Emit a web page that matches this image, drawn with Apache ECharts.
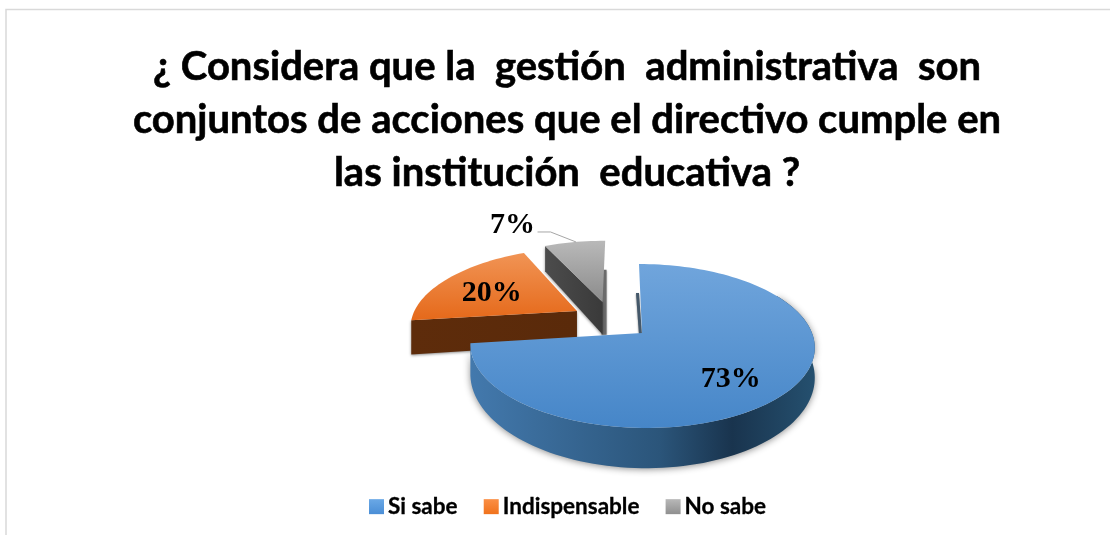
<!DOCTYPE html>
<html><head><meta charset="utf-8">
<style>html,body{margin:0;padding:0;background:#fff}#c{width:1110px;height:535px}</style>
<script src="https://cdn.jsdelivr.net/npm/echarts@6/dist/echarts.min.js"></script>
</head><body><div id="c"></div>
<script>
const titleLines = ['¿ Considera que la  gestión  administrativa  son','conjuntos de acciones que el directivo cumple en','las institución  educativa ?'];
const categories = ['Si sabe','Indispensable','No sabe'];
const values = [73,20,7];
const labels = ['73%','20%','7%'];

// projection of the tilted disk
const apexX=642, apexY=333, horiz=170, vert=79.9, persp=0.1585;
const explodeU=[0,-0.4,-0.24], explodeV=[0,0.2875,0.413];
const skew=[3.5,0,3];
const labelR=[0.70,0.63,1.52], labelT=[137.3,295.4,330.9];
const depthK=[28.5,36,37];
const topFill=[['#70a5dc','#4686c8'],['#f19455','#e5691a'],['#b9b9b9','#8b8b8b']];
const legendFill=[['#6aa8e6','#4a8ed6'],['#fb8f45','#f0721c'],['#b8b8b8','#8f8f8f']];
const wallFill=[
 [[0,'#4379ad'],[0.55,'#2b557a'],[0.76,'#19344e'],[1,'#25506f']],
 [[0,'#5e2c0b'],[1,'#5a2a0a']],
 [[0,'#4c4c4c'],[1,'#3a3a3a']]
];
const lg=(stops,hor)=>({type:'linear',x:0,y:0,x2:hor?1:0,y2:hor?0:1,colorStops:stops.map(s=>({offset:s[0],color:s[1]}))});
const vg=c=>lg([[0,c[0]],[1,c[1]]],false);

const total=values.reduce((a,b)=>a+b,0);
const starts=values.map((v,i)=>values.slice(0,i).reduce((a,b)=>a+b,0)/total*360);

function proj(u,v,k){const s=1/(1+persp*v);return {x:apexX+(u*horiz-v*(k||0))*s,y:apexY-v*vert*s,s};}
const rad=d=>d*Math.PI/180;
function polar(i,r,t){return proj(explodeU[i]+r*Math.sin(rad(t)),explodeV[i]+r*Math.cos(rad(t)),skew[i]);}
const down=(p,i)=>[p.x,p.y+depthK[i]*p.s*p.s];

function makeRender(i){
 return function(params,api){
  const sweep=api.value(0)/total*360, a0=starts[i], a1=a0+sweep, kids=[];
  const arc=(f,t)=>{const o=[],n=Math.max(4,Math.ceil(Math.abs(t-f)/2));for(let k=0;k<=n;k++)o.push(polar(i,1,f+(t-f)*k/n));return o;};
  const apex=polar(i,0,0), rim=arc(a0,a1);
  const wall=(pts,fill,shadow)=>kids.push({type:'polygon',shape:{points:pts},
    style:Object.assign({fill:fill},shadow?{shadowBlur:shadow,shadowColor:'rgba(0,0,0,0.45)',shadowOffsetY:1}:{})});
  if(i===0){
    // thin start edge, then the front rim
    const r0=rim[0];
    wall([[r0.x-3,r0.y+29],[r0.x,r0.y+29],[apex.x,apex.y+2],[apex.x-3,apex.y+2]],'#44586a',2);
    const f=arc(60,a1);
    const top=f.map(p=>[p.x,p.y]), bot=f.map(p=>down(p,i)).reverse();
    wall(top.concat(bot),lg(wallFill[i],true),7);
  } else {
    const edge=rim[0];
    if(i===2){
      const e=rim[rim.length-1], d=down(apex,i);
      wall([[apex.x-1,e.y+29],[apex.x+4,e.y+29],[apex.x+4,d[1]],[apex.x-1,d[1]]],'#6b6b6b',2);
    }
    wall([[edge.x,edge.y],[apex.x,apex.y],down(apex,i),down(edge,i)],lg(wallFill[i],true),3);
  }
  kids.push({type:'polygon',shape:{points:[[apex.x,apex.y]].concat(rim.map(p=>[p.x,p.y]))},style:{fill:vg(topFill[i])}});
  const lp=proj(explodeU[i]+labelR[i]*Math.sin(rad(labelT[i])),explodeV[i]+labelR[i]*Math.cos(rad(labelT[i])));
  if(i===2){
    const m=polar(i,1,(a0+a1)/2+0.5);
    kids.push({type:'polyline',shape:{points:[[lp.x+26,lp.y+8],[lp.x+39,lp.y+8],[m.x,m.y]]},style:{stroke:'#a6a6a6',lineWidth:1,fill:null}});
  }
  kids.push({type:'text',style:{text:labels[i],x:lp.x+1,y:lp.y+1.5,align:'center',verticalAlign:'middle',
    fontFamily:'Liberation Serif',fontWeight:'bold',fontSize:30,fill:'#000'}});
  return {type:'group',children:kids};
 };
}

const chart=echarts.init(document.getElementById('c'),null,{renderer:'canvas'});
chart.setOption({
 animation:false,
 backgroundColor:'#fff',
 title:{text:titleLines.join('\n'),left:562,top:36,textAlign:'center',
  textStyle:{fontFamily:'Lato',fontWeight:'bold',fontSize:40,lineHeight:53,color:'#000',textBorderColor:'#000',textBorderWidth:0.6}},
 legend:{data:categories,left:369,top:495,padding:0,itemWidth:15,itemHeight:15,itemGap:26,icon:'rect',
  textStyle:{fontFamily:'Lato',fontWeight:'bold',fontSize:22.5,color:'#000',padding:[0,0,0,-1],textBorderColor:'#000',textBorderWidth:0.3}},
 graphic:[{type:'polyline',silent:true,z:0,shape:{points:[[6,535],[6,9.5],[1110,9.5]]},style:{stroke:'#d9d9d9',lineWidth:1.5,fill:null}}],
 series:categories.map((name,i)=>({
  type:'custom',name,coordinateSystem:'none',z:4-i,
  itemStyle:{color:vg(legendFill[i])},
  renderItem:makeRender(i),data:[[values[i]]]
 }))
});
</script></body></html>
